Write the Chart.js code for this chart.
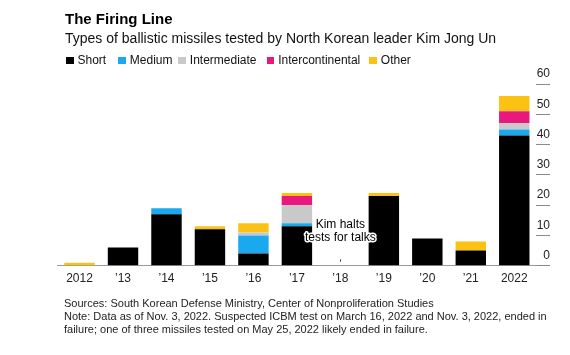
<!DOCTYPE html>
<html>
<head>
<meta charset="utf-8">
<script src="https://cdn.jsdelivr.net/npm/chart.js@4/dist/chart.umd.min.js"></script>
<style>
  html, body { margin: 0; padding: 0; background: #fff; }
  body { width: 570px; height: 355px; position: relative; overflow: hidden; font-family: "Liberation Sans", Arial, sans-serif; }
  #chart { position: absolute; left: 0; top: 0; }
  .title { position: absolute; left: 65px; top: 10px; font-size: 15px; font-weight: bold; color: #000; white-space: nowrap; }
  .subtitle { position: absolute; left: 65px; top: 29.5px; font-size: 14px; color: #111; white-space: nowrap; }
  .legend { position: absolute; left: 0; top: 53px; height: 14px; width: 570px; font-size: 12px; color: #111; }
  .legend .item { position: absolute; top: 0; white-space: nowrap; line-height: 14px; }
  .legend .sw { display: inline-block; width: 7.5px; height: 7.5px; margin-right: 4px; vertical-align: 0px; }
  .foot { position: absolute; left: 64px; top: 296.5px; font-size: 11px; line-height: 13.2px; color: #222; white-space: nowrap; }
</style>
</head>
<body>
<canvas id="chart" width="570" height="355"></canvas>
<div class="title">The Firing Line</div>
<div class="subtitle">Types of ballistic missiles tested by North Korean leader Kim Jong Un</div>
<div class="legend" id="legend"></div>
<div class="foot">Sources: South Korean Defense Ministry, Center of Nonproliferation Studies<br>Note: Data as of Nov. 3, 2022. Suspected ICBM test on March 16, 2022 and Nov. 3, 2022, ended in<br>failure; one of three missiles tested on May 25, 2022 likely ended in failure.</div>
<script>
// ---- data ----
const years = ['2012', '\u201913', '\u201914', '\u201915', '\u201916', '\u201917', '\u201918', '\u201919', '\u201920', '\u201921', '2022'];
const seriesNames = ['Short', 'Medium', 'Intermediate', 'Intercontinental', 'Other'];
const shortRange        = [0, 6, 17, 12, 4, 13, 0, 23, 9, 5, 43];
const mediumRange       = [0, 0, 2, 0, 6, 1, 0, 0, 0, 0, 2];
const intermediateRange = [0, 0, 0, 0, 1, 6, 0, 0, 0, 0, 2];
const intercontinental  = [0, 0, 0, 0, 0, 3, 0, 0, 0, 0, 4];
const otherTypes        = [1, 0, 0, 1, 3, 1, 0, 1, 0, 3, 5];
const yTicks = [0, 10, 20, 30, 40, 50, 60];
const annotationLines = ['Kim halts', 'tests for talks'];

// ---- styles ----
const colors = ['#000000', '#1aa9ee', '#c9c9c9', '#e8187c', '#fbc214'];
const legendX = [66, 118.3, 178.3, 266.7, 369.3];
const FONT = '"Liberation Sans", Arial, sans-serif';

const legendEl = document.getElementById('legend');
seriesNames.forEach((n, i) => {
  const d = document.createElement('div');
  d.className = 'item';
  d.style.left = legendX[i] + 'px';
  d.innerHTML = '<span class="sw" style="background:' + colors[i] + '"></span>' + n;
  legendEl.appendChild(d);
});

const allSeries = [shortRange, mediumRange, intermediateRange, intercontinental, otherTypes];

const annotationPlugin = {
  id: 'kimNote',
  afterDatasetsDraw(chart) {
    const ctx = chart.ctx;
    const xs = chart.scales.x, ys = chart.scales.y;
    const x = xs.getPixelForValue(6);
    ctx.save();
    ctx.strokeStyle = '#444';
    ctx.lineWidth = 1;
    ctx.beginPath();
    ctx.moveTo(Math.round(x) + 0.5, ys.getPixelForValue(2.1));
    ctx.lineTo(Math.round(x) + 0.5, ys.getPixelForValue(1.3));
    ctx.stroke();
    ctx.font = '12px ' + FONT;
    ctx.textAlign = 'center';
    ctx.textBaseline = 'middle';
    ctx.lineJoin = 'round';
    const vals = [13.4, 9.1];
    annotationLines.forEach((t, i) => {
      const y = ys.getPixelForValue(vals[i]);
      ctx.strokeStyle = '#fff';
      ctx.lineWidth = 3;
      ctx.strokeText(t, x, y);
      ctx.fillStyle = '#000';
      ctx.fillText(t, x, y);
    });
    ctx.restore();
  }
};

const chart = new Chart(document.getElementById('chart'), {
  type: 'bar',
  data: {
    labels: years,
    datasets: seriesNames.map((n, i) => ({
      label: n,
      data: allSeries[i],
      backgroundColor: colors[i],
      borderWidth: 0,
      barPercentage: 0.7,
      categoryPercentage: 1.0
    }))
  },
  options: {
    responsive: false,
    animation: false,
    events: [],
    layout: { padding: { left: 57.8, right: 20, top: 84, bottom: 70.9 } },
    plugins: { legend: { display: false }, tooltip: { enabled: false }, title: { display: false } },
    scales: {
      x: {
        stacked: true,
        grid: { display: false },
        border: { display: true, color: '#9a9a9a', width: 1 },
        ticks: { color: '#222', font: { family: FONT, size: 12 }, padding: -2, maxRotation: 0, autoSkip: false }
      },
      y: {
        stacked: true,
        position: 'right',
        min: 0, max: 60,
        afterBuildTicks(s) { s.ticks = yTicks.map(v => ({ value: v })); },
        afterFit(s) { s.width = 14; },
        grid: { drawOnChartArea: false, drawTicks: true, tickLength: 14, color: '#8a8a8a', lineWidth: 1 },
        border: { display: false },
        ticks: { color: '#222', font: { family: FONT, size: 12 }, padding: -14, crossAlign: 'far', labelOffset: -10 }
      }
    }
  },
  plugins: [annotationPlugin]
});
</script>
</body>
</html>
